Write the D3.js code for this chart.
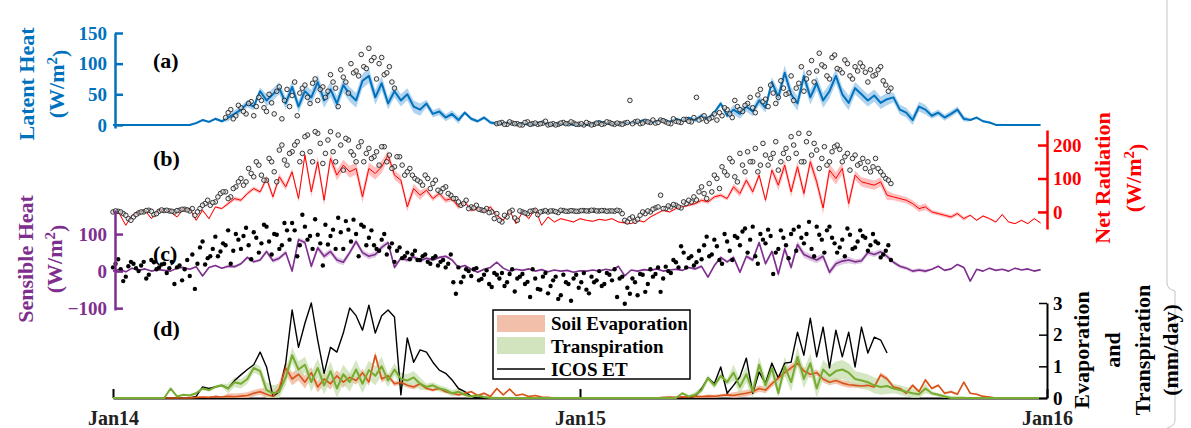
<!DOCTYPE html>
<html>
<head>
<meta charset="utf-8">
<script src="https://cdn.jsdelivr.net/npm/d3@7"></script>
<style>
    body { margin: 0; background: #fff; }
    svg { font-family: "Liberation Serif", "Times New Roman", serif; font-weight: bold; }
</style>
</head>
<body>
<div id="chart"></div>
<script>
// model series are sampled every 5 days from 1 Jan 2014, observations every 4 days
// (second observation set sits 2 days after the first)
const lineStep = 5;
const obsStep = 4;

const xTickLabels = ['Jan14', 'Jan15', 'Jan16'];
const leTicks = [0, 50, 100, 150];
const rnTicks = [0, 100, 200];
const hTicks = [-100, 0, 100];
const etTicks = [0, 1, 2, 3];
const legendLabels = ['Soil Evaporation', 'Transpiration', 'ICOS ET'];

// (a) latent heat, W/m2
const leModel = [0,0,0,0,0,0,0,0,0,0,0,0,0,
    3,8,5,10,6,12,18,25,35,30,55,40,50,60,35,62,30,55,45,70,40,58,35,65,50,40,72,80,45,68,35,55,40,50,30,25,35,18,22,12,18,8,20,10,6,12,4,2,
    2,4,1,3,0,2,5,1,0,1,2,0,1,0,2,6,3,1,2,4,3,5,8,4,6,9,5,10,7,12,
    8,15,10,20,35,15,25,18,30,22,40,28,70,45,85,50,35,80,45,68,40,55,80,50,36,60,50,40,48,36,42,45,25,20,8,30,25,15,20,12,18,25,10,8,12,6,4,0,
    0,0,0,0,0,0,0];
const leSpread = [0,0,2,6,10,12,12,10,6,3,1,0, 0,0,1,4,8,12,12,10,8,5,2,0];
const leObs = [null,null,null,null,null,null,null,null,null,null,null,null,null,null,null,null,null,null,null,null,null,null,
    12,25,15,28,18,38,30,40,22,36,55,10,58,48,15,60,45,68,40,62,55,70,30,78,52,85,80,95,125,110,100,82,95,60,
    null,null,null,null,null,null,null,null,null,null,null,null,null,null,null,null,null,null,null,
    2,4,1,3,2,0,5,2,1,3,0,2,1,4,2,3,1,0,2,1,3,2,4,1,2,3,40,5,2,6,4,3,8,5,2,6,4,9,5,45,10,6,12,8,
    15,25,12,30,22,35,28,49,38,30,52,45,60,52,40,68,55,85,70,117,95,75,114,90,106,80,95,101,86,90,82,95,65,60];
const leObs2 = [null,null,null,null,null,null,null,null,null,null,null,null,null,null,null,null,null,null,null,null,null,null,
    20,10,32,22,35,15,45,28,50,18,62,40,30,70,52,65,35,75,58,45,82,60,90,70,100,88,115,92,105,75,110,85,70,
    null,null,null,null,null,null,null,null,null,null,null,null,null,null,null,null,null,null,null,null,
    3,1,5,2,0,4,1,3,2,6,1,0,3,2,5,1,2,4,0,3,1,5,2,3,1,4,2,6,3,5,8,4,7,3,10,5,9,6,12,8,15,10,18,20,
    28,18,40,25,32,45,20,58,42,65,35,72,50,80,60,95,75,105,88,98,80,110,92,85,100,75,88,95,70,80,90,72,55];

// (b) net radiation, W/m2
const rnModel = [0,-5,-40,-10,0,5,-20,5,8,0,-15,8,10,-25,5,-20,15,10,25,40,35,55,70,60,100,45,105,75,120,40,
    170,60,150,35,160,110,140,120,130,45,130,115,135,170,110,95,15,70,50,65,40,55,35,40,15,30,5,10,0,15,
    -10,-25,5,-35,0,-20,10,-40,-15,-30,-20,-25,-30,-20,-25,-28,-22,-25,-20,-30,-33,-35,-25,-30,-15,-5,5,0,10,15,
    20,25,35,30,45,50,40,75,55,95,60,110,35,125,80,140,60,135,55,150,90,12,125,100,130,25,110,90,85,80,
    90,50,45,40,35,25,10,15,0,-5,-10,-15,-5,-20,-10,-25,-12,-20,-30,-8,-30,-35,-25,-35,-20,-33];
const rnSpread = [2,2,3,6,10,16,18,14,8,5,3,2, 2,2,3,6,10,16,18,14,10,6,3,2];
const rnObs = [0,2,-5,-20,-15,-3,0,5,-8,2,4,3,0,5,8,
    3,-10,10,25,20, 30,55,60,45,75, 100,90,115,150,110, 95,150,90,200,140,
    180,210,175,230,150, 235,145,215,180,230, 125,215,170,195,150, 190,165,140,195,170,
    135,165,110,130,100, 90,110,70,95,60, 75,50,40,20,35, 15,20,6,10,0,
    -5,-30,-15,5,-25, 0,-5,3,-8,2, 0,3,-2,4,2, 3,2,4,3,5,
    3,4,3,2,3, -25,-20,-28,-10,-5, 0,12,50,10,15, 20,12,25,30,36,
    75,40,60,100,135, 110,150,90,140,180, 150,120,205,140,175, 125,175,160,200,235,
    150,235,205,130,195, 150,195,187,165,125, 170,145,130,120,160, 120,100,85];
const rnObs2 = [3,0,-10,-25,-8,0,4,2,-5,6,5,2,4,8,6,
    10,0,20,35,28, 45,60,40,70,90, 80,130,105,140,95, 160,120,185,155,175,
    200,150,225,180,240, 205,175,240,150,200, 220,180,150,210,175, 160,180,195,150,130,
    165,140,120,110,95, 80,100,85,65,70, 55,40,30,25,10, 12,8,4,-2,-20,
    -25,-10,0,-18,3, -3,2,5,0,4, 3,1,5,2,4, 2,4,3,5,3,
    4,2,3,5,-5, -30,-15,-22,0,3, 8,15,10,18,22, 15,30,35,45,60,
    55,85,110,70,120, 160,105,175,120,150, 190,140,170,160,210, 150,190,225,175,150,
    210,170,185,160,140, 180,200,150,175,160, 140,160,150,135,130, 110,95];

// (c) sensible heat, W/m2
const hModel = [0,5,-2,8,2,6,0,4,2,0,8,10,5,12,-13,10,15,8,13,12,20,37,25,30,53,28,35,50,0,85,
    77,13,63,40,53,30,24,50,80,50,40,45,64,77,10,35,30,38,28,35,30,37,40,30,10,15,5,-3,5,10,
    24,8,0,5,2,6,0,4,-2,3,0,2,-3,1,0,3,0,5,2,13,-13,3,0,4,2,6,0,3,5,2,
    10,6,13,-16,15,37,25,37,-3,40,30,77,20,53,-8,60,10,72,45,37,30,40,-3,20,27,30,25,28,50,45,
    52,40,24,13,8,0,3,0,5,13,2,6,18,10,-27,5,0,8,2,5,0,8,3,6,0,4];
const hSpread = [1,1,2,4,6,8,8,6,4,2,1,1, 1,1,2,4,6,9,9,7,5,2,1,1];
const hObs = [10,32,-27,13,20, 0,25,-10,24,10, 20,8,-35,15,5, -13,-48,64,18,40,
    93,53,70,20,100, 60,117,32,90,75, 120,45,98,70,110, 130,40,152,85,60,
    98,15,72,112,144, 60,112,139,40,120, 90,70,55,100,64, 25,64,40,32,55,
    30,45,20,40,25, 10,45,-61,-30,5, -13,8,-21,2,-43, -10,-5,-30,5,-20,
    -8,-29,5,-48,-15, -60,-25,-75,-10,-35, -20,-45,-5,-60,-30, 0,-35,-10,5,-20,
    -88,-61,-30,-8,-56, 5,-8,-56,12,-5, 24,67,10,40,24, 32,93,45,67,20,
    80,30,90,107,50, 120,20,85,112,-8, 60,90,35,112,120, 75,133,40,98,50,
    120,75,64,40,98, 64,110,90,70,80, 37,55,30];
const hObs2 = [20,5,-15,25,8, 15,-20,30,5,18, -5,25,10,-25,30, 45,20,80,35,60,
    40,75,110,55,85, 95,70,105,50,125, 80,100,60,130,85, 110,70,120,95,140,
    75,125,95,60,105, 135,80,100,125,70, 110,60,85,45,75, 55,35,50,45,30,
    40,25,35,15,30, 20,-30,10,-15,0, 5,-25,-10,-35,-5, -20,-40,-8,-55,-15,
    -35,-70,-20,-50,-5, -40,-15,-65,-30,-80, -10,-30,-50,-15,-25, -40,-5,-25,-70,-15,
    -45,-20,-65,-10,-35, -15,10,-20,0,30, 10,50,35,15,55, 70,40,85,30,100,
    55,95,70,115,85, 40,100,75,95,50, 110,70,100,55,90, 100,60,120,85,110,
    90,50,85,115,60, 80,95,55,100,75, 45,70];

// (d) evaporation and transpiration, mm/day
const soilEvap = [0,0,0,0,0,0,0,0,0,0,0,0,0,
    0.02,0.03,0.02,0.05,0.03,0.05,0.04,0.06,0.08,0.15,0.2,0.12,0.05,0.3,0.95,0.6,0.75,0.5,0.8,0.35,0.6,0.45,0.7,0.5,0.65,0.55,
    0.8,0.5,1.35,0.6,0.7,0.45,0.5,0.4,0.35,0.45,0.3,0.25,0.3,0.2,0.15,0.1,0.15,0.2,0.08,0.15,0.05,0.3,0.1,0.28,0.08,0.12,0.05,0.08,0.03,0.02,
    0,0,0,0,0,0,0,0,0,0,0,0,0,0,0,0,
    0,0.02,0.03,0.02,0.04,0.03,0.05,0.04,0.06,0.05,0.08,0.1,0.08,0.12,0.15,0.2,0.3,0.25,0.45,0.63,0.8,0.95,1.1,0.85,0.75,0.8,0.6,
    0.5,0.55,0.47,0.42,0.4,0.38,0.4,0.35,0.73,0.6,0.35,0.3,0.15,0.4,0.2,0.57,0.3,0.4,0.15,0.2,0.12,0.5,0.15,0.12,0.05,0.03,
    0,0,0,0,0,0,0,0];
const evapSpread = [0,0,0.02,0.1,0.2,0.18,0.12,0.08,0.05,0.03,0.02,0, 0,0,0.01,0.05,0.1,0.12,0.1,0.08,0.06,0.04,0.02,0];
const transp = [0,0,0,0,0,0,0,0,0,
    0.3,0.05,0.1,0.08,0.15,0.3,0.25,0.35,0.4,0.3,0.5,0.45,0.6,0.95,0.85,0.25,0.15,0.2,0.65,1.35,0.9,1.05,0.5,0.95,0.4,0.85,
    0.3,0.75,0.5,0.9,0.45,0.88,0.7,1.0,0.55,0.9,0.6,0.55,0.65,0.45,0.35,0.4,0.3,0.25,0.15,0.2,0.1,0.05,0.08,0.03,
    0,0,0,0,0,0,0,0,0,0,0,0,0,0,0,0,0,0,0,0,0,0,0,0,0,0,0,0,0,0,
    0.15,0.05,0.1,0.25,0.63,0.4,0.7,0.5,0.8,0.35,0.75,0.2,1.05,0.4,0.95,0.15,1.0,0.5,1.3,0.6,1.1,0.3,0.9,0.7,0.85,0.9,0.8,0.6,
    0.55,0.5,0.4,0.35,0.38,0.3,0.25,0.2,0.15,0.12,0.3,0.15,0.1,0.05,
    0,0,0,0,0,0,0,0,0,0,0,0,0,0,0];
const transpSpread = [0,0,0.05,0.15,0.25,0.3,0.3,0.2,0.1,0.05,0,0, 0,0,0.02,0.1,0.25,0.3,0.3,0.25,0.15,0.06,0,0];
const icosET = [0,0,0,0,0,0,0,0,0,0,0,0,0,
    0.05,0.35,0.3,0.35,0.4,0.3,0.55,0.73,0.9,1.05,1.45,0.98,0.05,0.2,1.1,2.78,1.6,2.36,3.0,1.83,0.78,1.6,1.45,2.05,
    2.84,2.6,2.14,2.93,2.05,2.6,2.78,2.56,0.1,1.9,1.13,1.52,1.45,1.13,0.88,0.78,0.57,0.3,0.2,0.05,
    0,0,0,0,0,0,0,0,0,0,0,0,0,0,0,0,0,0,0,0,0,0,0,0,0,0,0,0,0,0,0,0,0,
    0,0.05,0.3,0.63,0.45,0.98,0.15,0.4,0.67,1.26,0.15,0.82,0.47,1.1,0.63,1.1,1.13,2.08,1.35,2.52,
    1.3,2.24,0.95,2.14,1.3,2.08,0.98,2.24,1.42,1.92,1.83,1.42,
    null,null,null,null,null,null,null,null,null,null,null,null,null,null,null,null,null,null,null,null,null,null,null,null];

window.addEventListener("DOMContentLoaded", function () {

    const w = 1191,
        h = 428,
        blue = '#0072BD',
        red = '#FF0000',
        purple = '#7E2F8E',
        orange = '#D95319',
        green = '#77AC30';

    const start = new Date(2014, 0, 1);
    const lineDates = leModel.map((d, i) => d3.timeDay.offset(start, i * lineStep));
    const xTickDates = [new Date(2014, 0, 1), new Date(2015, 0, 1), new Date(2016, 0, 1)];

    function monthOf(date) {
        return (date.getFullYear() - 2014) * 12 + date.getMonth();
    }

    const svg = d3.select('#chart')
        .append('svg')
        .attr('width', w)
        .attr('height', h);

    const xScale = d3.scaleTime()
        .domain([xTickDates[0], xTickDates[2]])
        .range([113, 1047]);

    const yLE = d3.scaleLinear().domain([-5, 150]).range([128, 33]);
    const yRn = d3.scaleLinear().domain([-51, 245]).range([229, 130]);
    const yH = d3.scaleLinear().domain([-105, 165]).range([310, 210]);
    const yET = d3.scaleLinear().domain([0, 3]).range([398, 303]);

    function drawBand(values, spread, y, clamp, color, opacity) {
        const lo = (d, i) => {
            let v = d - spread[monthOf(lineDates[i])];
            return y(clamp ? Math.max(0, v) : v);
        };
        const area = d3.area()
            .defined(d => d !== null)
            .x((d, i) => xScale(lineDates[i]))
            .y0(lo)
            .y1((d, i) => y(d + spread[monthOf(lineDates[i])]));
        svg.append('path')
            .datum(values)
            .attr('d', area)
            .attr('fill', color)
            .attr('fill-opacity', opacity)
            .attr('stroke', 'none');
    }

    function drawLine(values, y, color, width) {
        const line = d3.line()
            .defined(d => d !== null)
            .x((d, i) => xScale(lineDates[i]))
            .y(d => y(d));
        svg.append('path')
            .datum(values)
            .attr('d', line)
            .attr('fill', 'none')
            .attr('stroke', color)
            .attr('stroke-width', width)
            .attr('stroke-linejoin', 'round');
    }

    function drawObs(values, offset, y, filled) {
        const pts = values
            .map((v, i) => [d3.timeDay.offset(start, i * obsStep + offset), v])
            .filter(p => p[1] !== null);
        svg.append('g')
            .selectAll('circle')
            .data(pts)
            .enter()
            .append('circle')
            .attr('cx', d => xScale(d[0]))
            .attr('cy', d => y(d[1]))
            .attr('r', filled ? 2.2 : 2.3)
            .attr('fill', filled ? '#000' : '#e6e6e6')
            .attr('fill-opacity', filled ? 1 : 0.6)
            .attr('stroke', filled ? 'none' : '#222')
            .attr('stroke-width', 0.9);
    }

    function styleAxis(g, color) {
        g.select('.domain').attr('stroke', color).attr('stroke-width', 2.5);
        g.selectAll('.tick line').attr('stroke', color).attr('stroke-width', 2.5);
        g.selectAll('.tick text')
            .attr('fill', color)
            .style('font-size', '19px')
            .style('font-family', '"Liberation Serif", serif')
            .style('font-weight', 'bold');
    }

    function rotLabel(lines, color, cy) {
        lines.forEach(l => {
            let t = svg.append('text')
                .attr('transform', 'translate(' + l.x + ',' + cy + ') rotate(-90)')
                .attr('text-anchor', 'middle')
                .attr('fill', color)
                .style('font-size', '22px');
            if (l.sup) {
                t.append('tspan').text('(W/m');
                t.append('tspan').attr('dy', '-0.45em').style('font-size', '15px').text('2');
                t.append('tspan').attr('dy', '0.45em').text(')');
            } else {
                t.text(l.text);
            }
        });
    }

    //gray brace on the far right
    svg.append('path')
        .attr('d', 'M1167,0 V283 Q1167,289 1175,291 V420 Q1175,426 1167,428')
        .attr('fill', 'none')
        .attr('stroke', '#c4c4c4')
        .attr('stroke-width', 1);

    //x axis goes under the (d) lines so the zero-valued series sit on top of it
    const xAxis = svg.append('g')
        .attr('transform', 'translate(0,398)')
        .call(d3.axisBottom(xScale).tickValues(xTickDates)
            .tickFormat((d, i) => xTickLabels[i])
            .tickSizeInner(-9).tickSizeOuter(0).tickPadding(13));
    styleAxis(xAxis, '#000');
    xAxis.select('.domain').attr('stroke-width', 2);
    xAxis.selectAll('.tick line').attr('stroke-width', 2);
    xAxis.selectAll('.tick text').attr('fill', '#222').style('font-size', '20px');

    //(d) evaporation and transpiration
    drawBand(soilEvap, evapSpread, yET, true, '#F2B9A0', 0.85);
    drawBand(transp, transpSpread, yET, true, '#C6DDAE', 0.75);
    drawLine(icosET, yET, '#000', 1.4);
    drawLine(soilEvap, yET, orange, 1.6);
    drawLine(transp, yET, green, 2);

    //(c) sensible heat
    drawBand(hModel, hSpread, yH, false, '#C9A3D2', 0.6);
    drawLine(hModel, yH, purple, 1.6);
    drawObs(hObs, 0, yH, true);
    drawObs(hObs2, 2, yH, true);

    //(b) net radiation
    drawBand(rnModel, rnSpread, yRn, false, '#FF9C9C', 0.65);
    drawLine(rnModel, yRn, red, 1);
    drawObs(rnObs, 0, yRn, false);
    drawObs(rnObs2, 2, yRn, false);

    //(a) latent heat
    drawBand(leModel, leSpread, yLE, true, '#8EC0E8', 0.7);
    drawLine(leModel, yLE, blue, 2);
    drawObs(leObs, 0, yLE, false);
    drawObs(leObs2, 2, yLE, false);

    //axes
    const aAxis = svg.append('g')
        .attr('transform', 'translate(115,0)')
        .call(d3.axisLeft(yLE).tickValues(leTicks).tickSizeInner(-8).tickSizeOuter(0).tickPadding(8));
    styleAxis(aAxis, blue);

    const bAxis = svg.append('g')
        .attr('transform', 'translate(1047,0)')
        .call(d3.axisRight(yRn).tickValues(rnTicks).tickSizeInner(-9).tickSizeOuter(0).tickPadding(6));
    styleAxis(bAxis, red);

    const cAxis = svg.append('g')
        .attr('transform', 'translate(115,0)')
        .call(d3.axisLeft(yH).tickValues(hTicks).tickSizeInner(-8).tickSizeOuter(0).tickPadding(8));
    styleAxis(cAxis, purple);

    const dAxis = svg.append('g')
        .attr('transform', 'translate(1047,0)')
        .call(d3.axisRight(yET).tickValues(etTicks).tickFormat(d3.format('d'))
            .tickSizeInner(-8).tickSizeOuter(0).tickPadding(6));
    styleAxis(dAxis, '#000');
    dAxis.select('.domain').attr('stroke-width', 2);
    dAxis.selectAll('.tick line').attr('stroke-width', 1.5);

    //panel letters
    [['(a)', 68], ['(b)', 166], ['(c)', 261], ['(d)', 336]].forEach(p => {
        svg.append('text')
            .attr('x', 153)
            .attr('y', p[1])
            .attr('fill', '#000')
            .style('font-size', '22px')
            .text(p[0]);
    });

    //axis titles
    rotLabel([{x: 34, text: 'Latent Heat'}, {x: 64, sup: true}], blue, 84);
    rotLabel([{x: 33, text: 'Sensible Heat'}, {x: 62, sup: true}], purple, 259);
    rotLabel([{x: 1110, text: 'Net Radiation'}, {x: 1141, sup: true}], red, 178);
    rotLabel([{x: 1089, text: 'Evaporation'}, {x: 1120, text: 'and'},
        {x: 1150, text: 'Transpiration'}, {x: 1178, text: '(mm/day)'}], '#000', 350);

    //legend
    const legend = svg.append('g').attr('id', 'legend');
    legend.append('rect')
        .attr('x', 493)
        .attr('y', 310)
        .attr('width', 197)
        .attr('height', 69)
        .attr('fill', '#fff')
        .attr('stroke', '#000')
        .attr('stroke-width', 1.5);
    legend.append('rect')
        .attr('x', 497).attr('y', 315).attr('width', 48).attr('height', 17)
        .attr('fill', '#F2C0AA');
    legend.append('rect')
        .attr('x', 497).attr('y', 337).attr('width', 48).attr('height', 17)
        .attr('fill', '#D2E4BE');
    legend.append('line')
        .attr('x1', 497).attr('x2', 545).attr('y1', 369).attr('y2', 369)
        .attr('stroke', '#000').attr('stroke-width', 1.4);
    legendLabels.forEach((l, i) => {
        legend.append('text')
            .attr('x', 551)
            .attr('y', 330 + i * 23)
            .attr('fill', '#000')
            .style('font-size', '19px')
            .text(l);
    });
});
</script>
</body>
</html>
